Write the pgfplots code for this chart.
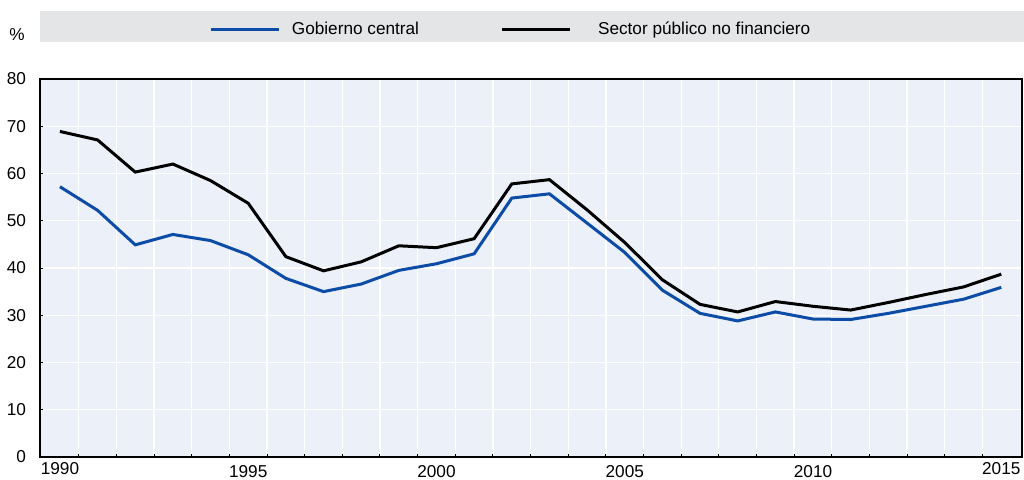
\documentclass[border=0pt]{standalone}
\usepackage{fontspec}
\setmainfont{Liberation Sans}
\usepackage{pgfplots}
\usepackage{pgfplotstable}
\pgfplotsset{compat=1.18}
\definecolor{oecdblue}{HTML}{0C4CA6}
\definecolor{plotbg}{HTML}{EBF0F9}
\definecolor{legbg}{HTML}{E4E5E7}

\pgfplotstableread{
year gc spnf
1990 57.2 68.9
1991 52.2 67.1
1992 44.9 60.3
1993 47.1 62.0
1994 45.8 58.5
1995 42.8 53.7
1996 37.8 42.4
1997 35.0 39.4
1998 36.6 41.3
1999 39.5 44.7
2000 40.9 44.3
2001 43.0 46.2
2002 54.8 57.8
2003 55.7 58.7
2004 49.5 52.3
2005 43.3 45.4
2006 35.3 37.5
2007 30.4 32.3
2008 28.8 30.7
2009 30.7 32.9
2010 29.2 31.9
2011 29.1 31.1
2012 30.4 32.7
2013 31.9 34.4
2014 33.4 36.0
2015 35.9 38.7
}\datatable

\begin{document}
\begin{tikzpicture}[x=1pt,y=1pt]
\fill[legbg] (20,219) rectangle (512,234.5);
\node[font=\fontsize{8.6}{10}\selectfont] at (8.5,222.5) {\%};
\begin{axis}[
 at={(20pt,11.5pt)}, anchor=south west,
 scale only axis, width=491pt, height=189pt,
 xmin=1989.47, xmax=2015.55, ymin=0, ymax=80,
 axis background/.style={fill=plotbg},
 axis line style={black, line width=0.9pt},
 ytick={0,10,...,80},
 xtick={1995,2000,2005,2010},
 extra x ticks={1990,2015},
 extra x tick style={grid=none, major tick length=0pt, xticklabel style={yshift=1.5pt}},
 minor xtick={1990.5,1991.5,...,2014.5},
 xminorgrids=true, xmajorgrids=false, ymajorgrids=true,
 grid style={white, line width=0.65pt},
 minor grid style={white, line width=0.65pt},
 tick align=inside, tick pos=left,
 major tick length=1.5pt, minor tick length=1.5pt,
 tick style={black, line width=0.5pt},
 major x tick style={draw=none},
 ticklabel style={font=\fontsize{8.6}{10}\selectfont, /pgf/number format/assume math mode=true},
 xticklabel style={/pgf/number format/1000 sep={}, yshift=-0.5pt},
 yticklabel style={xshift=-3.5pt},
 legend columns=2,
 legend style={at={(0.166,1.131)}, anchor=west, draw=none, fill=none,
   font=\fontsize{8.6}{10}\selectfont,
   /tikz/every even column/.append style={column sep=38.5pt}},
 legend image code/.code={\draw[#1] (0pt,0pt) -- (34pt,0pt);},
]
\addplot[oecdblue, line width=1.5pt] table[x=year, y=gc] {\datatable};
\addlegendentry{\hspace{3.75pt}Gobierno central}
\addplot[black, line width=1.5pt] table[x=year, y=spnf] {\datatable};
\addlegendentry{\hspace{11.5pt}Sector público no financiero}
\end{axis}
\pgfresetboundingbox
\useasboundingbox (0,0) rectangle (512,240);
\end{tikzpicture}
\end{document}
